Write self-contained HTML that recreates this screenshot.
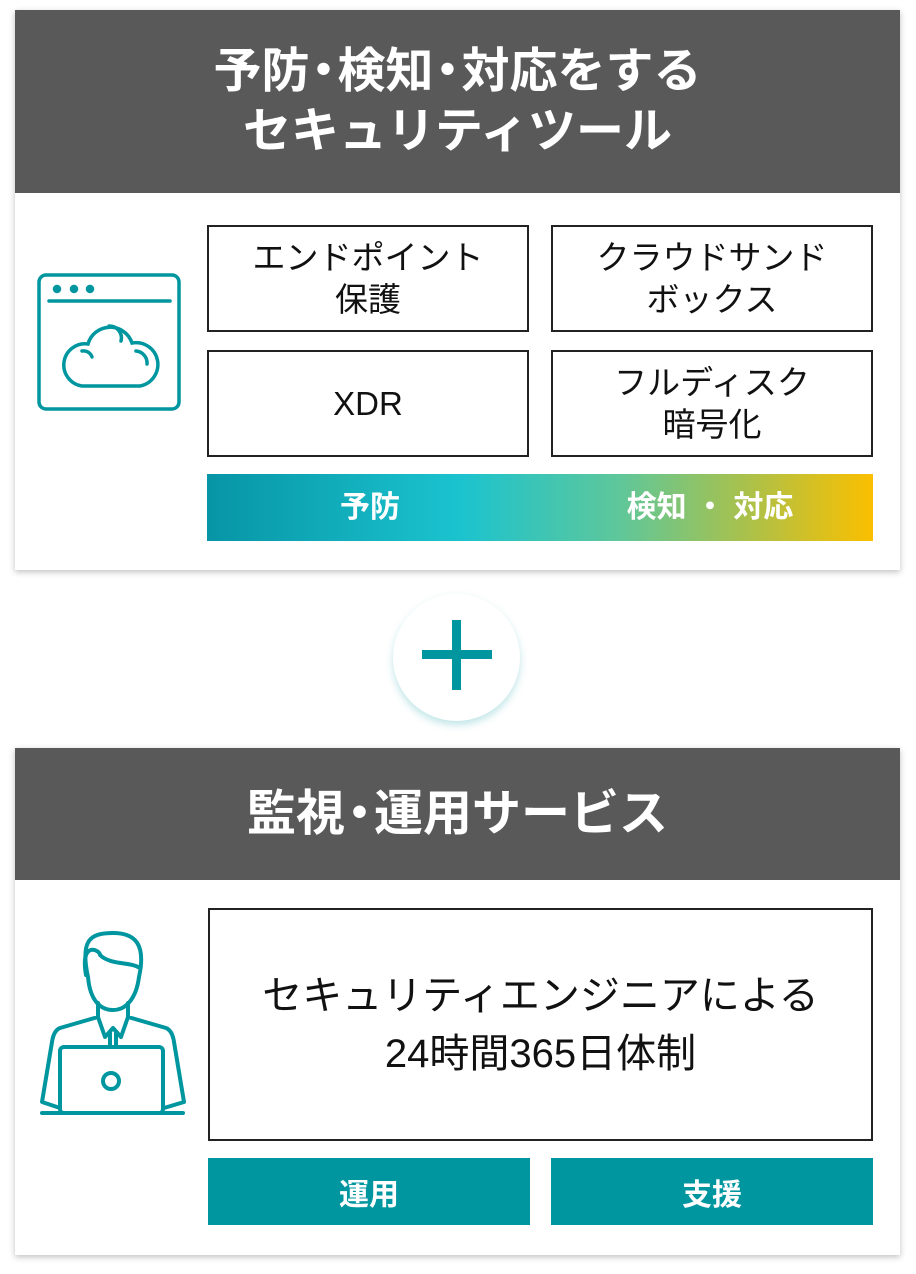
<!DOCTYPE html>
<html><head><meta charset="utf-8"><style>
body{margin:0;width:916px;height:1274px;background:#fff;position:relative;font-family:"Liberation Sans","Noto Sans CJK JP",sans-serif;overflow:hidden}
.card{position:absolute;left:15px;width:885px;background:#fff;box-shadow:0 2px 6px rgba(0,0,0,.25)}
.hd{background:#595959;color:#fff;font-weight:bold;text-align:center}
.box{position:absolute;border:2px solid #222;box-sizing:border-box;display:flex;align-items:center;justify-content:center;text-align:center;font-size:33px;line-height:42px;color:#111}
.btn{position:absolute;background:#00969f;color:#fff;font-weight:bold;font-size:30px;display:flex;align-items:center;justify-content:center}
</style></head><body>
<div class="card" style="top:10px;height:560px">
 <div class="hd" style="height:183px;font-size:48px;line-height:60px;padding-top:32px;box-sizing:border-box">予防<span style="margin:0 -10px">・</span>検知<span style="margin:0 -10px">・</span>対応をする<br>セキュリティツール</div>
</div>
<div class="box" style="left:207px;top:225px;width:322px;height:107px">エンドポイント<br>保護</div>
<div class="box" style="left:551px;top:225px;width:322px;height:107px">クラウドサンド<br>ボックス</div>
<div class="box" style="left:207px;top:350px;width:322px;height:107px">XDR</div>
<div class="box" style="left:551px;top:350px;width:322px;height:107px">フルディスク<br>暗号化</div>
<div style="position:absolute;left:207px;top:474px;width:666px;height:67px;background:linear-gradient(90deg,#0795a6 0%,#1bc3cf 38%,#5fc79a 62%,#a6c14f 80%,#fbbf00 100%)"></div>
<div style="position:absolute;left:300px;top:474px;width:140px;height:67px;line-height:67px;text-align:center;color:#fff;font-weight:bold;font-size:30px">予防</div>
<div style="position:absolute;left:590px;top:474px;width:240px;height:67px;line-height:67px;text-align:center;color:#fff;font-weight:bold;font-size:30px">検知 ・ 対応</div>
<svg style="position:absolute;left:0;top:0" width="200" height="430" fill="none" stroke="#00969f" stroke-width="3.5" stroke-linecap="round">
<rect x="39" y="275" width="140" height="134" rx="7"/><line x1="49" y1="301" x2="170" y2="301"/>
<circle cx="57" cy="289" r="2.5" fill="#00969f"/><circle cx="74" cy="289" r="2.5" fill="#00969f"/><circle cx="90" cy="289" r="2.5" fill="#00969f"/>
<path d="M82 386 A21 21 0 0 1 88 344 A23 23 0 0 1 132 343 A21 21 0 0 1 140 386 Z"/>
<path d="M109 326 A12 12 0 0 1 121 341M82 351 A9 9 0 0 1 92 357M136 351 A12 12 0 0 1 147 364"/>
</svg>
<div style="position:absolute;left:393px;top:594px;width:127px;height:127px;border-radius:50%;background:#fff;box-shadow:0 4px 8px rgba(0,150,160,.25)"></div>
<div style="position:absolute;left:422px;top:650px;width:70px;height:9px;background:#00969f"></div>
<div style="position:absolute;left:452px;top:620px;width:9px;height:70px;background:#00969f"></div>
<div class="card" style="top:748px;height:507px">
 <div class="hd" style="height:132px;font-size:49px;line-height:132px">監視<span style="margin:0 -10px">・</span>運用サービス</div>
</div>
<div class="box" style="left:208px;top:908px;width:665px;height:233px;font-size:40px;line-height:58px">セキュリティエンジニアによる<br>24時間365日体制</div>
<div class="btn" style="left:208px;top:1158px;width:322px;height:67px">運用</div>
<div class="btn" style="left:551px;top:1158px;width:322px;height:67px">支援</div>
<svg style="position:absolute;left:0;top:900px" width="220" height="240" fill="none" stroke="#00969f" stroke-width="4" stroke-linecap="round" stroke-linejoin="round">
<path d="M88 77 C80 40 90 33 113 33 C136 33 146 45 139 77 C136 100 125 110 113 110 C100 110 90 100 88 77Z"/>
<path d="M86 75 C80 40 100 50 100 55 C110 65 130 62 138 67"/>
<path d="M98 103 L98 117 L60 128 C55 130 53 135 52 142 L42 202 L60 208M128 103 L128 117 L166 128 C171 130 173 135 174 142 L184 202 L164 208"/>
<path d="M98 117 L105 137 L113 128 L121 137 L128 117M110 133 L110 147M116 133 L116 147"/>
<rect x="60" y="147" width="103" height="66" rx="4"/><circle cx="111" cy="181" r="8"/>
<line x1="42" y1="213" x2="183" y2="213"/>
</svg>
</body></html>
